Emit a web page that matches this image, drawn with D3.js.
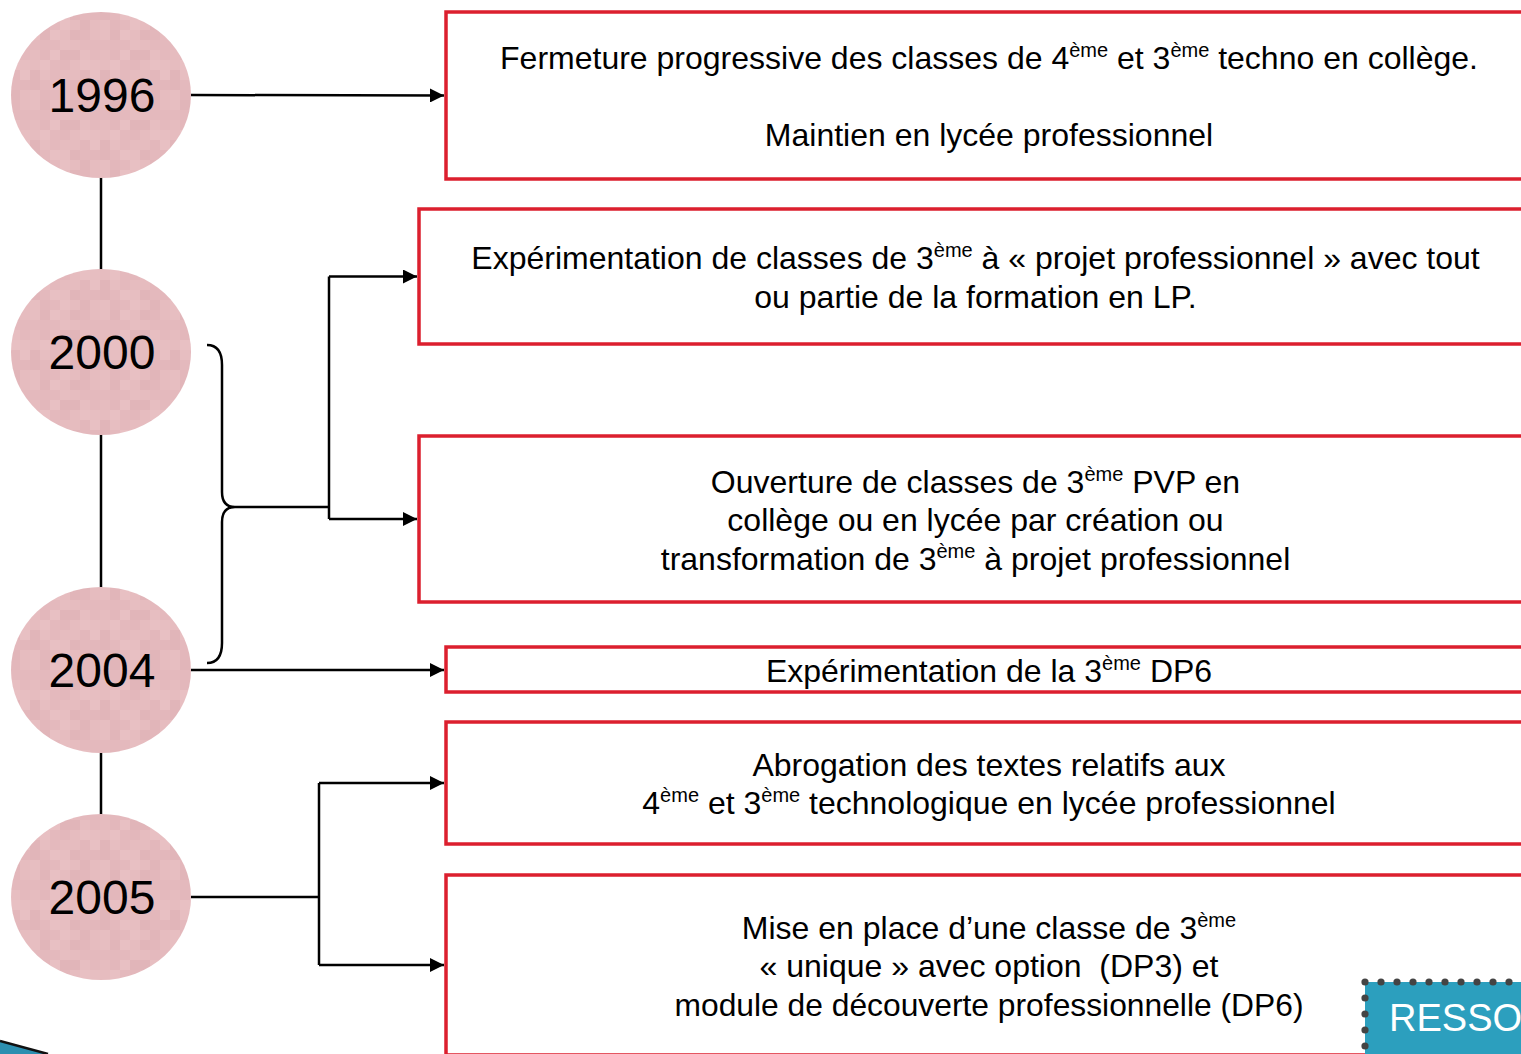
<!DOCTYPE html>
<html>
<head>
<meta charset="utf-8">
<script src="https://cdn.jsdelivr.net/npm/d3@7"></script>
<style>
  html, body { margin: 0; padding: 0; background: #fff; overflow: hidden; }
  svg { display: block; }
  text { font-family: "Liberation Sans", Arial, Helvetica, sans-serif; white-space: pre; }
</style>
</head>
<body>
<svg id="chart" width="1521" height="1054"></svg>
<script>
// ---- data ----
const years = ["1996", "2000", "2004", "2005"];

// event texts; "^...^" marks superscript
const events = [
  ["Fermeture progressive des classes de 4^ème^ et 3^ème^ techno en collège.", "", "Maintien en lycée professionnel"],
  ["Expérimentation de classes de 3^ème^ à « projet professionnel » avec tout", "ou partie de la formation en LP."],
  ["Ouverture de classes de 3^ème^ PVP en", "collège ou en lycée par création ou", "transformation de 3^ème^ à projet professionnel"],
  ["Expérimentation de la 3^ème^ DP6"],
  ["Abrogation des textes relatifs aux", "4^ème^ et 3^ème^ technologique en lycée professionnel"],
  ["Mise en place d’une classe de 3^ème^", "« unique » avec option  (DP3) et", "module de découverte professionnelle (DP6)"]
];

// which year(s) lead to which events
const links = [
  { from: [0],    to: [0] },
  { from: [1, 2], to: [1, 2] },
  { from: [2],    to: [3] },
  { from: [3],    to: [4, 5] }
];

const badge = ["RESSO"];

// ---- layout ----
const svg = d3.select("#chart");
const defs = svg.append("defs");

// mosaic texture for the circles
const pat = defs.append("pattern").attr("id", "mosaic")
  .attr("patternUnits", "userSpaceOnUse").attr("width", 70).attr("height", 70);
const shades = ["#e6bcbf", "#e3b7bb", "#e8c0c3", "#e1b5b9", "#e7bec1", "#e4b9bd"];
for (let i = 0; i < 7; i++) for (let j = 0; j < 7; j++) {
  pat.append("rect").attr("x", i * 10).attr("y", j * 10).attr("width", 10).attr("height", 10)
    .attr("fill", shades[(i * 7 + j * 3 + (i * j) % 5) % shades.length]);
}

defs.append("marker").attr("id", "arrow")
  .attr("viewBox", "0 0 10 10").attr("refX", 10).attr("refY", 5)
  .attr("markerWidth", 14).attr("markerHeight", 14).attr("markerUnits", "userSpaceOnUse")
  .attr("orient", "auto")
  .append("path").attr("d", "M0,0 L10,5 L0,10 Z").attr("fill", "#000");

// year positions
const yearScale = d3.scaleOrdinal().domain(years).range([95, 352, 670, 897]);
const cx = 101, rx = 90, ry = 83;

// event box geometry
const boxCy = d3.scaleOrdinal().domain(d3.range(events.length)).range([95.5, 276.5, 519, 669.5, 783, 965]);
const boxH  = d3.scaleOrdinal().domain(d3.range(events.length)).range([167, 135, 166, 45, 122, 180]);
const boxX  = d3.scaleOrdinal().domain(d3.range(events.length)).range([446, 419, 419, 446, 446, 446]);
const boxRight = 1532;
const lineH = 38.5;
const supShift = 12;

// vertical timeline
svg.append("line").attr("x1", cx).attr("x2", cx)
  .attr("y1", yearScale(years[0])).attr("y2", yearScale(years[years.length - 1]))
  .attr("stroke", "#000").attr("stroke-width", 2.5);

// boxes
const boxes = svg.selectAll("g.box").data(events).join("g").attr("class", "box");
boxes.append("rect")
  .attr("x", (d, i) => boxX(i))
  .attr("y", (d, i) => boxCy(i) - boxH(i) / 2)
  .attr("width", (d, i) => boxRight - boxX(i))
  .attr("height", (d, i) => boxH(i))
  .attr("fill", "#fff").attr("stroke", "#dc1f2e").attr("stroke-width", 3.5);

boxes.each(function (lines, i) {
  const g = d3.select(this);
  const midX = (boxX(i) + boxRight) / 2;
  const n = lines.length;
  lines.forEach((ln, k) => {
    const y = boxCy(i) + 12 + (k - (n - 1) / 2) * lineH;
    const t = g.append("text").attr("x", midX).attr("y", y)
      .attr("text-anchor", "middle").attr("font-size", 32).attr("fill", "#000");
    const parts = ln.split("^");
    let raised = false;
    parts.forEach((p, pi) => {
      if (p === "") return;
      if (pi % 2 === 1) {
        t.append("tspan").attr("font-size", 20).attr("dy", -supShift).text(p);
        raised = true;
      } else {
        const ts = t.append("tspan").text(p);
        if (raised) { ts.attr("dy", supShift); raised = false; }
      }
    });
    if (i === 5 && k === 2) t.attr("textLength", 629).attr("lengthAdjust", "spacingAndGlyphs");
  });
});

// connectors
const stroke = sel => sel.attr("fill", "none").attr("stroke", "#000").attr("stroke-width", 2.5);
const xStart = cx + rx;

// 1996 -> box 0
stroke(svg.append("line")).attr("x1", xStart).attr("y1", yearScale(years[0]))
  .attr("x2", boxX(0) - 2).attr("y2", boxCy(0)).attr("marker-end", "url(#arrow)");

// brace 2000-2004 -> boxes 1 & 2
const bTop = 345, bBot = 663, bTip = 507, bx0 = 207, bx1 = 222, bxTip = 235, splitX = 329;
stroke(svg.append("path")).attr("d",
  `M${bx0},${bTop} Q${bx1},${bTop} ${bx1},${bTop + 20} L${bx1},${bTip - 15} Q${bx1},${bTip} ${bxTip},${bTip}` +
  ` Q${bx1},${bTip} ${bx1},${bTip + 15} L${bx1},${bBot - 20} Q${bx1},${bBot} ${bx0},${bBot}`);
stroke(svg.append("line")).attr("x1", bxTip).attr("x2", splitX).attr("y1", bTip).attr("y2", bTip);
stroke(svg.append("line")).attr("x1", splitX).attr("x2", splitX).attr("y1", boxCy(1)).attr("y2", boxCy(2));
[1, 2].forEach(i => stroke(svg.append("line")).attr("x1", splitX).attr("y1", boxCy(i))
  .attr("x2", boxX(i) - 2).attr("y2", boxCy(i)).attr("marker-end", "url(#arrow)"));

// 2004 -> box 3
stroke(svg.append("line")).attr("x1", xStart).attr("y1", yearScale(years[2]))
  .attr("x2", boxX(3) - 2).attr("y2", yearScale(years[2])).attr("marker-end", "url(#arrow)");

// 2005 -> boxes 4 & 5
const split2 = 319;
stroke(svg.append("line")).attr("x1", xStart).attr("x2", split2).attr("y1", yearScale(years[3])).attr("y2", yearScale(years[3]));
stroke(svg.append("line")).attr("x1", split2).attr("x2", split2).attr("y1", boxCy(4)).attr("y2", boxCy(5));
[4, 5].forEach(i => stroke(svg.append("line")).attr("x1", split2).attr("y1", boxCy(i))
  .attr("x2", boxX(i) - 2).attr("y2", boxCy(i)).attr("marker-end", "url(#arrow)"));

// year circles
const yg = svg.selectAll("g.year").data(years).join("g").attr("class", "year");
yg.append("ellipse").attr("cx", cx).attr("cy", d => yearScale(d)).attr("rx", rx).attr("ry", ry)
  .attr("fill", "url(#mosaic)");
yg.append("text").attr("x", cx + 1).attr("y", d => yearScale(d) + 17)
  .attr("text-anchor", "middle").attr("font-size", 48).attr("fill", "#000").text(d => d);

// RESSO badge
const bg = svg.append("g");
bg.append("rect").attr("x", 1365).attr("y", 982).attr("width", 170).attr("height", 90).attr("fill", "#2c9fbe");
d3.range(1365, 1530, 16).forEach(x => bg.append("circle").attr("cx", x).attr("cy", 982).attr("r", 3.6).attr("fill", "#444"));
d3.range(998, 1060, 16).forEach(y => bg.append("circle").attr("cx", 1365).attr("cy", y).attr("r", 3.6).attr("fill", "#444"));
bg.append("text").attr("x", 1389).attr("y", 1031).attr("font-size", 38).attr("fill", "#fff").text(badge[0]);

// bottom-left corner fragment
svg.append("path").attr("d", "M0,1041 L48,1054 L0,1054 Z").attr("fill", "#2c8fb0");
svg.append("path").attr("d", "M0,1041 L48,1054").attr("stroke", "#111").attr("stroke-width", 2.5);
</script>
</body>
</html>
